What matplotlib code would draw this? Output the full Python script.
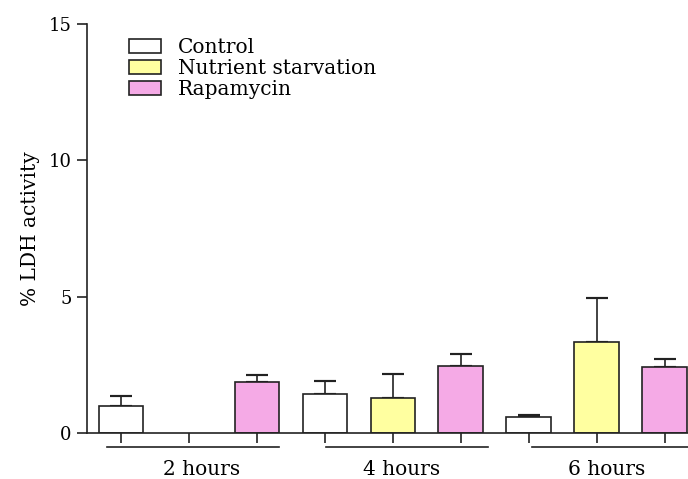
import matplotlib
matplotlib.use("Agg")
import matplotlib.pyplot as plt
import matplotlib.transforms as mtransforms
from matplotlib.patches import Patch
import numpy as np

plt.rcParams["font.family"] = ["DejaVu Serif"]

groups = ["2 hours", "4 hours", "6 hours"]
series = ["Control", "Nutrient starvation", "Rapamycin"]
colors = ["#FFFFFF", "#FFFFA0", "#F5AAE6"]

# mean % LDH activity per series, one value per time point
control = [0.99, 1.42, 0.57]
starvation = [np.nan, 1.27, 3.35]
rapamycin = [1.86, 2.46, 2.42]

# upper error (SEM) per series
control_err = [0.35, 0.50, 0.09]
starvation_err = [np.nan, 0.89, 1.59]
rapamycin_err = [0.27, 0.45, 0.29]

values = [control, starvation, rapamycin]
errors = [control_err, starvation_err, rapamycin_err]

fig = plt.figure(figsize=(6.88, 4.79), dpi=100)
ax = fig.add_axes([87 / 688, 46 / 479, 601 / 688, 409 / 479])

n_series = len(series)
lw = 1.2
for s in range(n_series):
    x = np.arange(len(groups)) * n_series + s
    v = np.array(values[s], dtype=float)
    e = np.array(errors[s], dtype=float)
    ax.bar(x, v, width=0.66, color=colors[s], edgecolor="#222222", linewidth=lw, zorder=2)
    ax.errorbar(x, v, yerr=[np.zeros_like(e), e], fmt="none", ecolor="#222222",
                elinewidth=lw, capsize=8, capthick=lw * 1.3, zorder=1)

all_x = np.arange(len(groups) * n_series)
ax.set_xlim(-0.5, 8.34)
ax.set_ylim(0, 15)
ax.set_yticks([0, 5, 10, 15])
ax.set_xticks(all_x)
ax.set_xticklabels([])
ax.tick_params(axis="both", direction="out", length=7, width=1.2, labelsize=13, color="#222222")
ax.tick_params(axis="y", pad=4)
for side in ["top", "right"]:
    ax.spines[side].set_visible(False)
ax.spines["left"].set_bounds(0, 15)
for side in ["left", "bottom"]:
    ax.spines[side].set_linewidth(1.2)
    ax.spines[side].set_color("#222222")
ax.set_ylabel("% LDH activity", fontsize=14.5, labelpad=6)

# group underlines and labels below the axis
trans = mtransforms.blended_transform_factory(ax.transData, ax.transAxes)
spans = [(-0.21, 2.32), (3.02, 5.40), (6.04, 8.6)]
label_x = [1.18, 4.13, 7.15]
for g, name in enumerate(groups):
    ax.plot(spans[g], [-0.034, -0.034], transform=trans, color="#222222",
            linewidth=1.2, clip_on=False)
    ax.text(label_x[g], -0.09, name, transform=trans, ha="center", va="center", fontsize=14.5)

handles = [Patch(facecolor=c, edgecolor="#222222", linewidth=1.2) for c in colors]
fig.legend(handles, series, loc="upper left", bbox_to_anchor=(129 / 688, 1 - 38 / 479),
           frameon=False, fontsize=14.5, borderpad=0, handlelength=1.6, handleheight=0.75,
           handletextpad=0.85, labelspacing=0.1, borderaxespad=0)

fig.savefig("out.png", dpi=100)
